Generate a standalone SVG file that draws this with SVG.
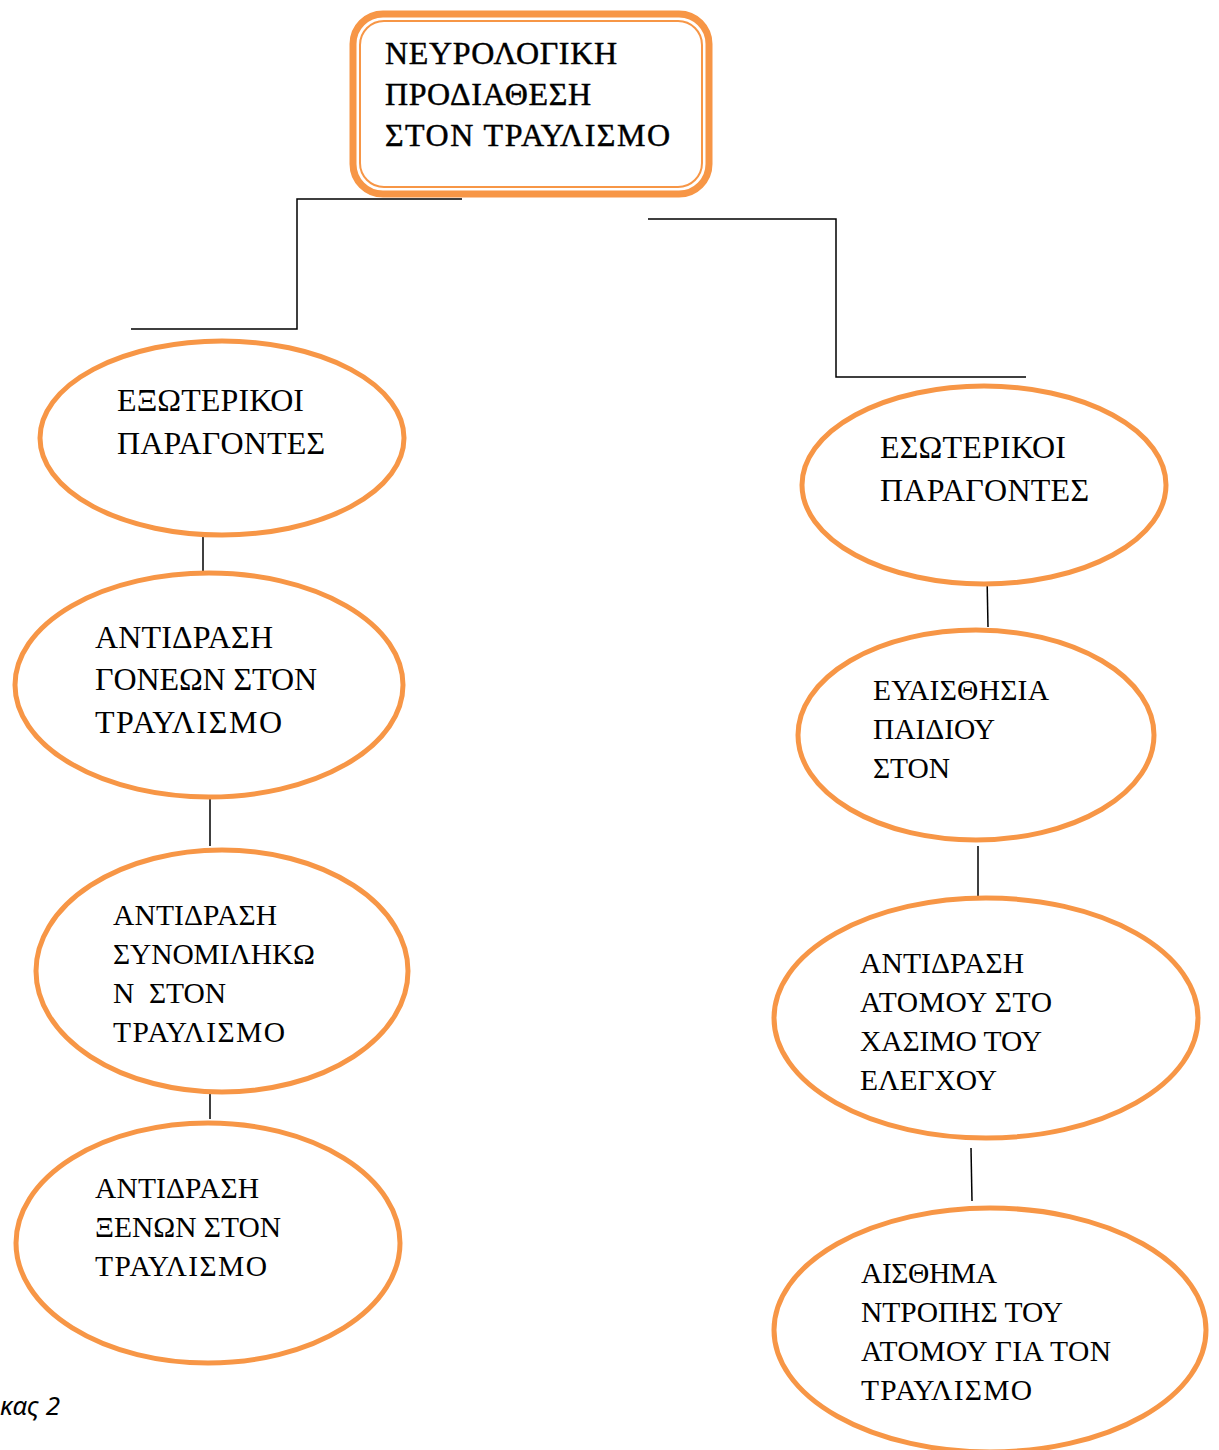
<svg xmlns="http://www.w3.org/2000/svg" width="1219" height="1450" viewBox="0 0 1219 1450">
<style>
.el{fill:#fff;stroke:#F79646;stroke-width:5}
.t{font-family:"Liberation Serif","Times New Roman",serif;fill:#000}
.a{font-size:32px}
.b{font-size:29.5px}
.top{font-size:32px;stroke:#000;stroke-width:0.45}
.c{stroke:#000;stroke-width:1.5;fill:none}
.cap{font-family:"Noto Sans","Open Sans",sans-serif;font-style:italic;font-size:26px;fill:#000}
</style>
<rect width="1219" height="1450" fill="#fff"/>
<g id="connectors">
<polyline class="c" points="462,199 297,199 297,329 131,329"/>
<polyline class="c" points="648,219 836,219 836,377 1026,377"/>
<line class="c" x1="203" y1="519" x2="203" y2="571"/>
<line class="c" x1="210" y1="798" x2="210" y2="846"/>
<line class="c" x1="210" y1="1072" x2="210" y2="1119"/>
<line class="c" x1="987" y1="575" x2="988" y2="627"/>
<line class="c" x1="978" y1="846" x2="978" y2="896"/>
<line class="c" x1="971" y1="1148" x2="972" y2="1201"/>
</g>
<g id="top">
<rect x="353" y="14" width="356" height="180" rx="30" fill="#fff" stroke="#F79646" stroke-width="7"/>
<rect x="360" y="21" width="342" height="166" rx="24" fill="none" stroke="#F79646" stroke-width="2"/>
<text class="t top"><tspan x="385" y="64" textLength="232">ΝΕΥΡΟΛΟΓΙΚΗ</tspan><tspan x="385" y="105" textLength="206">ΠΡΟΔΙΑΘΕΣΗ</tspan><tspan x="385" y="146" textLength="285">ΣΤΟΝ ΤΡΑΥΛΙΣΜΟ</tspan></text>
</g>
<g id="n1">
<ellipse class="el" cx="222" cy="438" rx="182" ry="97"/>
<text class="t a"><tspan x="117" y="411" textLength="187">ΕΞΩΤΕΡΙΚΟΙ</tspan><tspan x="117" y="454" textLength="208">ΠΑΡΑΓΟΝΤΕΣ</tspan></text>
</g>
<g id="n2">
<ellipse class="el" cx="209" cy="685" rx="194" ry="112"/>
<text class="t a"><tspan x="95" y="648" textLength="178">ΑΝΤΙΔΡΑΣΗ</tspan><tspan x="95" y="690" textLength="222">ΓΟΝΕΩΝ ΣΤΟΝ</tspan><tspan x="95" y="733" textLength="187">ΤΡΑΥΛΙΣΜΟ</tspan></text>
</g>
<g id="n3">
<ellipse class="el" cx="222" cy="971" rx="186" ry="121"/>
<text class="t b"><tspan x="113" y="925" textLength="164">ΑΝΤΙΔΡΑΣΗ</tspan><tspan x="113" y="964" textLength="202">ΣΥΝΟΜΙΛΗΚΩ</tspan><tspan x="113" y="1003" textLength="113" xml:space="preserve">Ν  ΣΤΟΝ</tspan><tspan x="113" y="1042" textLength="172">ΤΡΑΥΛΙΣΜΟ</tspan></text>
</g>
<g id="n4">
<ellipse class="el" cx="208" cy="1243" rx="192" ry="120"/>
<text class="t b"><tspan x="95" y="1198" textLength="164">ΑΝΤΙΔΡΑΣΗ</tspan><tspan x="95" y="1237" textLength="186">ΞΕΝΩΝ ΣΤΟΝ</tspan><tspan x="95" y="1276" textLength="172">ΤΡΑΥΛΙΣΜΟ</tspan></text>
</g>
<g id="n5">
<ellipse class="el" cx="984" cy="485" rx="182" ry="99"/>
<text class="t a"><tspan x="880" y="458" textLength="186">ΕΣΩΤΕΡΙΚΟΙ</tspan><tspan x="880" y="501" textLength="209">ΠΑΡΑΓΟΝΤΕΣ</tspan></text>
</g>
<g id="n6">
<ellipse class="el" cx="976" cy="735" rx="178" ry="105"/>
<text class="t b"><tspan x="873" y="700" textLength="176">ΕΥΑΙΣΘΗΣΙΑ</tspan><tspan x="873" y="739" textLength="122">ΠΑΙΔΙΟΥ</tspan><tspan x="873" y="778" textLength="77">ΣΤΟΝ</tspan></text>
</g>
<g id="n7">
<ellipse class="el" cx="986" cy="1018" rx="212" ry="120"/>
<text class="t b"><tspan x="860" y="973" textLength="164">ΑΝΤΙΔΡΑΣΗ</tspan><tspan x="860" y="1012" textLength="192">ΑΤΟΜΟΥ ΣΤΟ</tspan><tspan x="860" y="1051" textLength="182">ΧΑΣΙΜΟ ΤΟΥ</tspan><tspan x="860" y="1090" textLength="137">ΕΛΕΓΧΟΥ</tspan></text>
</g>
<g id="n8">
<ellipse class="el" cx="990" cy="1330" rx="216" ry="122"/>
<text class="t b"><tspan x="861" y="1283" textLength="136">ΑΙΣΘΗΜΑ</tspan><tspan x="861" y="1322" textLength="202">ΝΤΡΟΠΗΣ ΤΟΥ</tspan><tspan x="861" y="1361" textLength="250">ΑΤΟΜΟΥ ΓΙΑ ΤΟΝ</tspan><tspan x="861" y="1400" textLength="171">ΤΡΑΥΛΙΣΜΟ</tspan></text>
</g>
<text class="cap" x="0" y="1415">κας 2</text>
</svg>
